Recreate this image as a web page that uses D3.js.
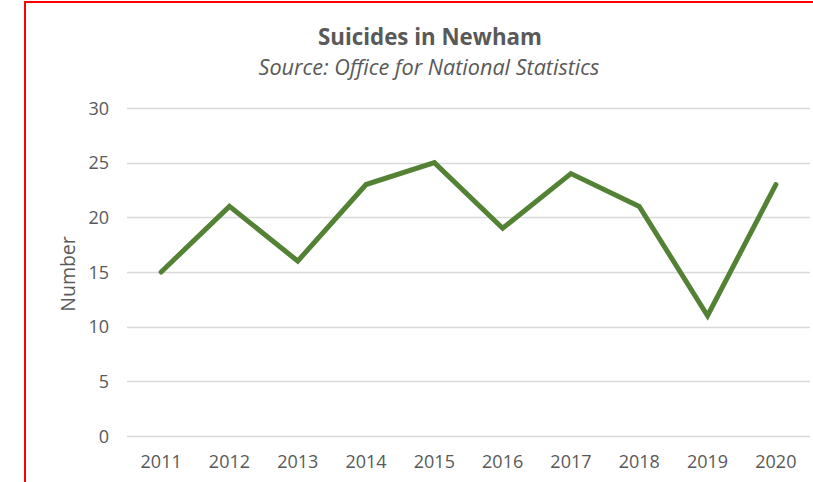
<!DOCTYPE html>
<html><head><meta charset="utf-8">
<script src="https://cdn.jsdelivr.net/npm/d3@7"></script>
<style>
html,body{margin:0;padding:0;background:#fff;}
svg{display:block;font-family:"Open Sans",sans-serif;}
</style></head>
<body><svg id="c" width="813" height="482"></svg>
<script>
const years = ["2011","2012","2013","2014","2015","2016","2017","2018","2019","2020"];
const suicides = [15,21,16,23,25,19,24,21,11,23];
const yTicks = [0,5,10,15,20,25,30];
const titleText = "Suicides in Newham";
const subtitleText = "Source: Office for National Statistics";
const yAxisTitle = "Number";

const svg = d3.select("#c");
const W = 813, H = 482;
const m = {left:127, right:3, top:108, bottom:46};

// red frame (top and left)
svg.append("line").attr("x1",25).attr("x2",W).attr("y1",2).attr("y2",2).attr("stroke","#ff0000").attr("stroke-width",2);
svg.append("line").attr("x1",25).attr("x2",25).attr("y1",1).attr("y2",H).attr("stroke","#ff0000").attr("stroke-width",2);

const x = d3.scaleBand().domain(years).range([m.left, W-m.right]);
const y = d3.scaleLinear().domain([0,30]).range([H-m.bottom, m.top]);

// gridlines
svg.append("g").selectAll("line").data(yTicks).join("line")
  .attr("x1",m.left).attr("x2",W-m.right)
  .attr("y1",d=>Math.round(y(d))+0.5).attr("y2",d=>Math.round(y(d))+0.5)
  .attr("stroke","#d9d9d9").attr("stroke-width",d=>d===0?1.5:1.3);

// y axis labels
const yAxis = d3.axisLeft(y).tickValues(yTicks).tickSize(0).tickPadding(0);
const gy = svg.append("g").attr("transform",`translate(${m.left-18},0)`).call(yAxis);
gy.select(".domain").remove();
gy.selectAll("text").attr("fill","#595959").style("font-size","18px").style("font-family","'Open Sans',sans-serif").attr("dy","0.35em");

// x axis labels
const xAxis = d3.axisBottom(x).tickSize(0).tickPadding(0);
const gx = svg.append("g").attr("transform",`translate(0,${H-m.bottom+19})`).call(xAxis);
gx.select(".domain").remove();
gx.selectAll("text").attr("fill","#595959").style("font-size","18px").style("font-family","'Open Sans',sans-serif").attr("dy","0.71em");

// line
const line = d3.line().x((d,i)=>x(years[i])+x.bandwidth()/2).y(d=>y(d));
svg.append("path").datum(suicides).attr("d",line)
  .attr("fill","none").attr("stroke","#548235").attr("stroke-width",5)
  .attr("stroke-linejoin","miter").attr("stroke-linecap","round");

// titles
svg.append("text").attr("x",430).attr("y",45).attr("text-anchor","middle")
  .attr("fill","#595959").style("font-size","22.3px").style("font-weight","bold").text(titleText);
svg.append("text").attr("x",429).attr("y",75).attr("text-anchor","middle")
  .attr("fill","#595959").style("font-size","21.6px").style("font-style","italic").text(subtitleText);

svg.append("text").attr("transform","translate(75,274) rotate(-90)").attr("text-anchor","middle")
  .attr("fill","#595959").style("font-size","19.5px").text(yAxisTitle);
</script></body></html>
